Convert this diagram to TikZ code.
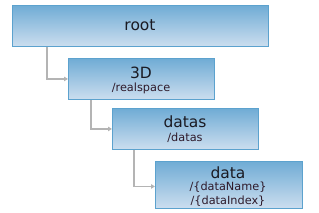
\documentclass[tikz,border=0pt]{standalone}
\usepackage{fontspec}
\setmainfont{DejaVu Sans}
\usetikzlibrary{arrows.meta}
\definecolor{boxtop}{HTML}{70ACD5}
\definecolor{boxbot}{HTML}{CCDEEF}
\definecolor{boxline}{HTML}{5CA2CE}
\definecolor{connc}{HTML}{B4B4B4}
\definecolor{txtc}{HTML}{1A1A22}
\definecolor{subc}{HTML}{2E1A2A}
\tikzset{
  box/.style={draw=boxline, line width=0.9pt, top color=boxtop, bottom color=boxbot,
    rectangle, anchor=north west, inner sep=0pt},
  ttl/.style={text=txtc, font=\fontsize{15.5}{16}\selectfont, inner sep=0pt},
  sub/.style={text=subc, font=\fontsize{11.3}{12}\selectfont, inner sep=0pt},
  conn/.style={draw=connc, line width=1.1pt, -{Triangle[width=4.5pt,length=4pt]}}
}
\begin{document}
\begin{tikzpicture}[x=1pt,y=-1pt]
\useasboundingbox (0,0) rectangle (319,212);
\node[box, minimum width=256pt, minimum height=41pt] (root) at (12,5) {};
\node[box, minimum width=146pt, minimum height=41pt] (n3d) at (68,58) {};
\node[box, minimum width=146pt, minimum height=41pt] (datas) at (112,108) {};
\node[box, minimum width=147pt, minimum height=47pt] (data) at (155,161) {};
\node[ttl] (troot) at (140,25) {root};
\node[ttl] (t3d) at (141,73) {3D};
\node[sub] (s3d) at (141,88) {/realspace};
\node[ttl] (tdatas) at (185,122) {datas};
\node[sub] (sdatas) at (185,138) {/datas};
\node[ttl] (tdata) at (228,173) {data};
\node[sub] (sdata1) at (228,187) {/\{dataName\}};
\node[sub] (sdata2) at (228,201) {/\{dataIndex\}};
\draw[conn] ([xshift=35pt]root.south west) |- (n3d.west);
\draw[conn] ([xshift=23pt]n3d.south west) |- (datas.west);
\draw[conn] ([xshift=22pt]datas.south west) |- ([yshift=-1.5pt]data.west);
\end{tikzpicture}
\end{document}
